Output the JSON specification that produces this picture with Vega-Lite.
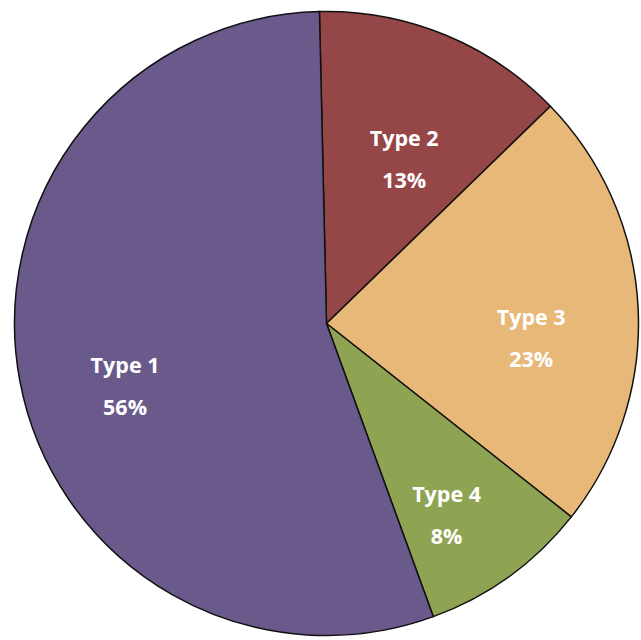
{
  "$schema": "https://vega.github.io/schema/vega-lite/v6.json",
  "width": 627,
  "height": 627,
  "padding": {"left": 13, "top": 10, "right": 0, "bottom": 0},
  "autosize": {"type": "none"},
  "background": "white",
  "view": {"stroke": null},
  "data": {
    "values": [
      {"type": "Type 2", "share": 13.1, "pct": "13%", "rank": 1},
      {"type": "Type 3", "share": 22.9, "pct": "23%", "rank": 2},
      {"type": "Type 4", "share": 8.8, "pct": "8%", "rank": 3},
      {"type": "Type 1", "share": 55.2, "pct": "56%", "rank": 4}
    ]
  },
  "encoding": {
    "theta": {"field": "share", "type": "quantitative", "stack": true, "scale": {"range": [-0.0227, 6.2605]}},
    "order": {"field": "rank", "type": "quantitative"},
    "color": {
      "field": "type",
      "type": "nominal",
      "scale": {"domain": ["Type 1", "Type 2", "Type 3", "Type 4"], "range": ["#6A5A8C", "#954646", "#E8B879", "#8FA453"]},
      "legend": null
    }
  },
  "layer": [
    {"mark": {"type": "arc", "outerRadius": 312, "stroke": "#111111", "strokeWidth": 1.5}},
    {"mark": {"type": "text", "radius": 205, "dy": 6, "font": "Open Sans", "fontWeight": "bold", "fontSize": 21.5, "fill": "white"}, "encoding": {"text": {"field": "type"}, "color": {"value": "white"}}},
    {"mark": {"type": "text", "radius": 205, "dy": 48, "font": "Open Sans", "fontWeight": "bold", "fontSize": 21.5, "fill": "white"}, "encoding": {"text": {"field": "pct"}, "color": {"value": "white"}}}
  ]
}
